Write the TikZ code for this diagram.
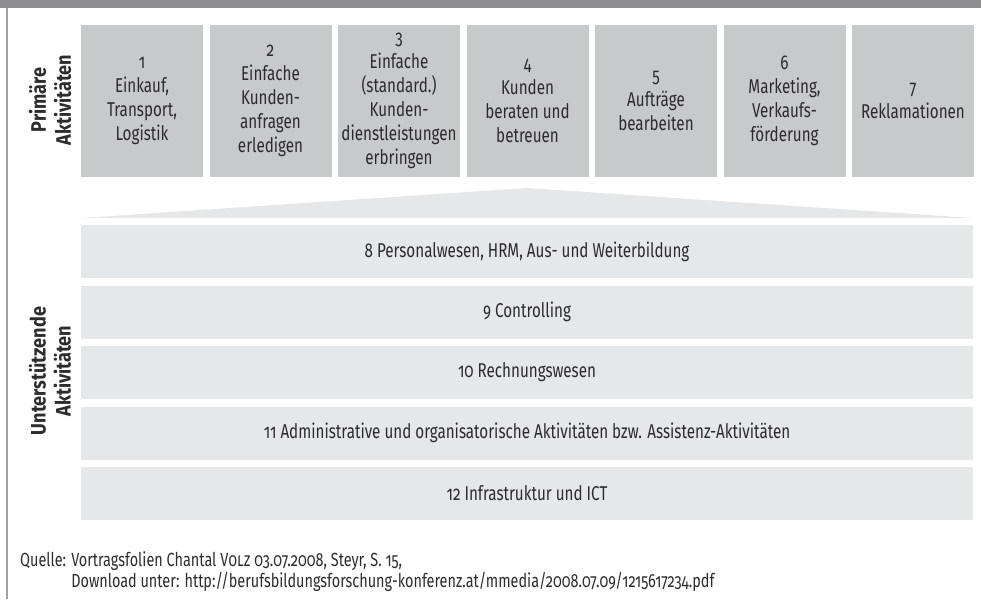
\documentclass[tikz,border=0pt]{standalone}
\usepackage{fontspec}
\setmainfont{Fira Sans}[FakeStretch=0.76, Numbers=OldStyle]
\newfontfamily\sidefont{Fira Sans}[FakeStretch=0.86, Numbers=OldStyle]
\usepackage{tikz}
\usetikzlibrary{positioning}
\usetikzlibrary{calc}
\definecolor{topbar}{HTML}{8E8E90}
\definecolor{frameline}{HTML}{A0A0A2}
\definecolor{primfill}{HTML}{C8C9CB}
\definecolor{suppfill}{HTML}{E6E7E8}
\definecolor{textgray}{HTML}{2C2C2C}
\tikzset{primbox/.style={fill=primfill, minimum width=122pt, minimum height=152pt, inner sep=0pt, align=center, text=textgray, font=\fontsize{20}{24}\selectfont}}
\tikzset{suppbar/.style={fill=suppfill, minimum width=892pt, minimum height=53pt, inner sep=0pt, text=textgray, font=\fontsize{20}{24}\selectfont}}
\tikzset{sidelabel/.style={rotate=90, align=center, text=textgray, font=\sidefont\fontsize{21}{25}\selectfont\bfseries}}

\begin{document}
\begin{tikzpicture}[x=1pt, y=-1pt]
		\useasboundingbox (0,0) rectangle (981,599);
		% frame
		\fill[topbar] (0,0) rectangle (981,8);
		\draw[frameline, line width=2pt] (7,8) -- (7,599);
		% primaere Aktivitaeten
		\node[sidelabel] (prim) at (50,100) {Primäre\\Aktivitäten};
		\node[primbox] (p1) at (142,101) {1\\Einkauf,\\Transport,\\Logistik};
		\node[primbox] (p2) at (270.5,101) {2\\Einfache\\Kunden-\\anfragen\\erledigen};
		\node[primbox] (p3) at (399,101) {3\\Einfache\\(standard.)\\Kunden-\\dienstleistungen\\erbringen};
		\node[primbox] (p4) at (527.5,101) {4\\Kunden\\beraten und\\betreuen};
		\node[primbox] (p5) at (656,101) {5\\Aufträge\\bearbeiten};
		\node[primbox] (p6) at (784.5,101) {6\\Marketing,\\Verkaufs-\\förderung};
		\node[primbox] (p7) at (913,101) {7\\Reklamationen};
		% Keil
		\coordinate (apex) at (527,188);
		\fill[suppfill] (81,218) -- (apex) -- (973,218) -- cycle;
		% unterstuetzende Aktivitaeten
		\node[sidelabel] (supp) at (50,371) {Unterstützende\\Aktivitäten};
		\node[suppbar] (s8) at (527,251.5) {8 Personalwesen, HRM, Aus- und Weiterbildung};
		\node[suppbar] (s9) at (527,312) {9 Controlling};
		\node[suppbar] (s10) at (527,372.5) {10 Rechnungswesen};
		\node[suppbar] (s11) at (527,433) {11 Administrative und organisatorische Aktivitäten bzw. Assistenz-Aktivitäten};
		\node[suppbar] (s12) at (527,493.5) {12 Infrastruktur und ICT};
		% Quelle
		\node[anchor=north west, inner sep=0pt, text=textgray, font=\fontsize{19}{21}\selectfont] (src) at (20,551) {%
			\begin{tabular}{@{}l@{ }l@{}}
				Quelle: & Vortragsfolien Chantal \textsc{Volz} 03.07.2008, Steyr, S.~15,\\
				& Download unter: http://berufsbildungsforschung-konferenz.at/mmedia/2008.07.09/1215617234.pdf
			\end{tabular}};
	\end{tikzpicture}
\end{document}
